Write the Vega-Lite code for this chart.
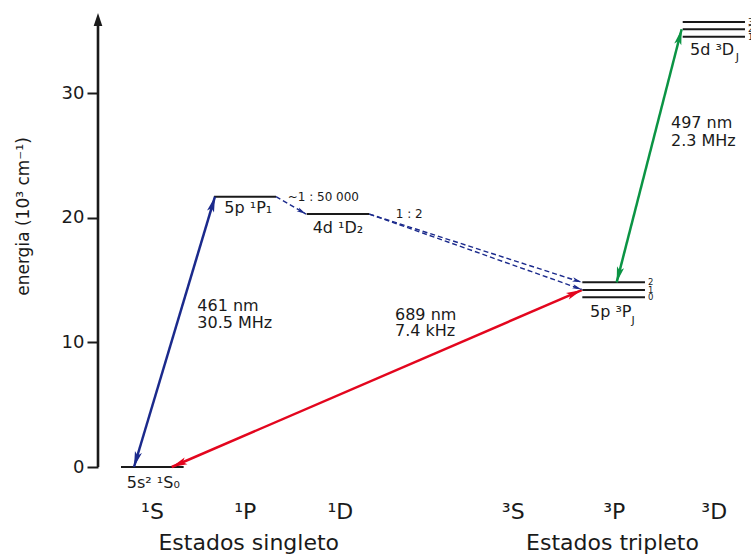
{
  "$schema": "https://vega.github.io/schema/vega-lite/v6.json",
  "width": 653,
  "height": 461,
  "autosize": {"type": "none"},
  "padding": {"left": 98, "top": 6, "right": 0, "bottom": 88},
  "background": "white",
  "config": {
    "view": {"stroke": null},
    "font": "DejaVu Sans",
    "axisX": {"disable": true},
    "text": {"font": "DejaVu Sans", "color": "#1a1a1a"}
  },
  "datasets": {
    "niveles": [
      {"estado": "5s2 1S0", "x1": 0.697, "x2": 1.343, "y": 0},
      {"estado": "5p 1P1", "x1": 1.656, "x2": 2.295, "y": 21.7},
      {"estado": "4d 1D2", "x1": 2.611, "x2": 3.257, "y": 20.3},
      {"estado": "5p 3P2", "x1": 5.453, "x2": 6.099, "y": 14.82},
      {"estado": "5p 3P1", "x1": 5.453, "x2": 6.099, "y": 14.2},
      {"estado": "5p 3P0", "x1": 5.453, "x2": 6.099, "y": 13.62},
      {"estado": "5d 3D3", "x1": 6.488, "x2": 7.13, "y": 35.71},
      {"estado": "5d 3D2", "x1": 6.488, "x2": 7.13, "y": 35.13},
      {"estado": "5d 3D1", "x1": 6.488, "x2": 7.13, "y": 34.53}
    ],
    "transiciones": [
      {"t": "461 nm", "canal": "1P1", "tipo": "laser", "x1": 0.831, "y1": 0, "x2": 1.666, "y2": 21.7},
      {"t": "689 nm", "canal": "3P1", "tipo": "laser", "x1": 1.22, "y1": 0, "x2": 5.447, "y2": 14.2},
      {"t": "497 nm", "canal": "3D", "tipo": "laser", "x1": 5.807, "y1": 14.82, "x2": 6.477, "y2": 35.13},
      {"t": "1P1-1D2", "canal": "1P1", "tipo": "decaimiento", "x1": 2.295, "y1": 21.7, "x2": 2.604, "y2": 20.3},
      {"t": "1D2-3P2", "canal": "1P1", "tipo": "decaimiento", "x1": 3.257, "y1": 20.3, "x2": 5.447, "y2": 14.82},
      {"t": "1D2-3P1", "canal": "1P1", "tipo": "decaimiento", "x1": 3.257, "y1": 20.3, "x2": 5.447, "y2": 14.25}
    ],
    "eje": [{"x": 0.46, "y": 0, "ytop": 35.5, "ypunta": 36.44}],
    "textos": [
      {"texto": "5s² ¹S₀", "x": 1.03, "y": -1.71, "clase": "nivel"},
      {"texto": "5p ¹P₁", "x": 2.009, "y": 20.42, "clase": "nivel"},
      {"texto": "4d ¹D₂", "x": 2.934, "y": 18.76, "clase": "nivel"},
      {"texto": "5p ³P", "x": 5.532, "y": 12.04, "clase": "nivelL"},
      {"texto": "J", "x": 5.96, "y": 11.5, "clase": "sub"},
      {"texto": "5d ³D", "x": 6.563, "y": 33.1, "clase": "nivelL"},
      {"texto": "J", "x": 7.035, "y": 32.55, "clase": "sub"},
      {"texto": "2", "x": 6.13, "y": 14.82, "clase": "J"},
      {"texto": "1", "x": 6.13, "y": 14.2, "clase": "J"},
      {"texto": "0", "x": 6.13, "y": 13.62, "clase": "J"},
      {"texto": "3", "x": 7.161, "y": 35.71, "clase": "J"},
      {"texto": "2", "x": 7.161, "y": 35.13, "clase": "J"},
      {"texto": "1", "x": 7.161, "y": 34.53, "clase": "J"},
      {"texto": "461 nm", "x": 1.484, "y": 12.54, "clase": "trans"},
      {"texto": "30.5 MHz", "x": 1.484, "y": 11.18, "clase": "trans"},
      {"texto": "689 nm", "x": 3.522, "y": 11.8, "clase": "trans"},
      {"texto": "7.4 kHz", "x": 3.522, "y": 10.51, "clase": "trans"},
      {"texto": "497 nm", "x": 6.367, "y": 27.2, "clase": "trans"},
      {"texto": "2.3 MHz", "x": 6.367, "y": 25.8, "clase": "trans"},
      {"texto": "~1 : 50 000", "x": 2.783, "y": 21.37, "clase": "ratio"},
      {"texto": "1 : 2", "x": 3.668, "y": 20.0, "clase": "ratio"},
      {"texto": "¹S", "x": 1.022, "y": -4.2, "clase": "term"},
      {"texto": "¹P", "x": 1.979, "y": -4.2, "clase": "term"},
      {"texto": "¹D", "x": 2.958, "y": -4.2, "clase": "term"},
      {"texto": "³S", "x": 4.741, "y": -4.2, "clase": "term"},
      {"texto": "³P", "x": 5.782, "y": -4.2, "clase": "term"},
      {"texto": "³D", "x": 6.813, "y": -4.2, "clase": "term"},
      {"texto": "Estados singleto", "x": 2.014, "y": -6.66, "clase": "grupo"},
      {"texto": "Estados tripleto", "x": 5.764, "y": -6.66, "clase": "grupo"}
    ]
  },
  "layer": [
    {
      "data": {"name": "eje"},
      "mark": {"type": "rule", "strokeWidth": 2.6, "color": "#1a1a1a"},
      "encoding": {
        "x": {"field": "x", "type": "quantitative", "scale": {"domain": [0.46, 7.192], "nice": false, "zero": false}, "axis": null},
        "y": {
          "field": "y", "type": "quantitative",
          "scale": {"domain": [0, 37], "nice": false, "zero": false},
          "axis": {
            "title": "energia (10³ cm⁻¹)",
            "values": [0, 10, 20, 30],
            "domain": false,
            "grid": false,
            "tickSize": 11,
            "tickWidth": 2,
            "tickColor": "#1a1a1a",
            "labelFontSize": 18,
            "labelFont": "DejaVu Sans",
            "labelColor": "#1a1a1a",
            "labelPadding": 3,
            "titleFont": "DejaVu Sans",
            "titleFontSize": 17,
            "titleFontWeight": "normal",
            "titleColor": "#1a1a1a",
            "titleAngle": -90,
            "titleAlign": "center",
            "titleBaseline": "middle",
            "titleX": -75,
            "titleY": 210
          }
        },
        "y2": {"field": "ytop"}
      }
    },
    {
      "data": {"name": "eje"},
      "mark": {"type": "point", "shape": "M0,0 L0.6,1.8 L-0.6,1.8 Z", "filled": true, "size": 207, "color": "#1a1a1a", "opacity": 1, "strokeWidth": 0},
      "encoding": {
        "x": {"field": "x", "type": "quantitative", "axis": null},
        "y": {"field": "ypunta", "type": "quantitative"}
      }
    },
    {
      "data": {"name": "niveles"},
      "mark": {"type": "rule", "strokeWidth": 2, "color": "#1a1a1a"},
      "encoding": {
        "x": {"field": "x1", "type": "quantitative", "axis": null},
        "x2": {"field": "x2"},
        "y": {"field": "y", "type": "quantitative"}
      }
    },
    {
      "data": {"name": "transiciones"},
      "transform": [{"filter": "datum.tipo == 'laser'"}],
      "mark": {"type": "rule", "strokeWidth": 2.5},
      "encoding": {
        "x": {"field": "x1", "type": "quantitative", "axis": null},
        "y": {"field": "y1", "type": "quantitative"},
        "x2": {"field": "x2"},
        "y2": {"field": "y2"},
        "color": {"field": "canal", "type": "nominal", "legend": null, "scale": {"domain": ["1P1", "3P1", "3D"], "range": ["#1b2a8c", "#e3061e", "#0b9444"]}}
      }
    },
    {
      "data": {"name": "transiciones"},
      "transform": [{"filter": "datum.tipo == 'decaimiento'"}],
      "mark": {"type": "rule", "strokeWidth": 1.4, "strokeDash": [5, 3]},
      "encoding": {
        "x": {"field": "x1", "type": "quantitative", "axis": null},
        "y": {"field": "y1", "type": "quantitative"},
        "x2": {"field": "x2"},
        "y2": {"field": "y2"},
        "color": {"field": "canal", "type": "nominal", "legend": null}
      }
    },
    {
      "data": {"name": "transiciones"},
      "transform": [
        {"filter": "datum.tipo == 'laser'"},
        {"calculate": "atan2((datum.x2 - datum.x1) * 97, (datum.y2 - datum.y1) * 12.459) * 180 / PI", "as": "ang"}
      ],
      "mark": {"type": "point", "shape": "M0,0 L0.42,1.8 L0,1.4 L-0.42,1.8 Z", "filled": true, "size": 300, "opacity": 1, "strokeWidth": 0},
      "encoding": {
        "x": {"field": "x2", "type": "quantitative", "axis": null},
        "y": {"field": "y2", "type": "quantitative"},
        "angle": {"field": "ang", "type": "quantitative", "scale": null},
        "color": {"field": "canal", "type": "nominal", "legend": null}
      }
    },
    {
      "data": {"name": "transiciones"},
      "transform": [
        {"filter": "datum.tipo == 'laser'"},
        {"calculate": "atan2((datum.x1 - datum.x2) * 97, (datum.y1 - datum.y2) * 12.459) * 180 / PI", "as": "ang"}
      ],
      "mark": {"type": "point", "shape": "M0,0 L0.42,1.8 L0,1.4 L-0.42,1.8 Z", "filled": true, "size": 300, "opacity": 1, "strokeWidth": 0},
      "encoding": {
        "x": {"field": "x1", "type": "quantitative", "axis": null},
        "y": {"field": "y1", "type": "quantitative"},
        "angle": {"field": "ang", "type": "quantitative", "scale": null},
        "color": {"field": "canal", "type": "nominal", "legend": null}
      }
    },
    {
      "data": {"name": "transiciones"},
      "transform": [
        {"filter": "datum.tipo == 'decaimiento'"},
        {"calculate": "atan2((datum.x2 - datum.x1) * 97, (datum.y2 - datum.y1) * 12.459) * 180 / PI", "as": "ang"}
      ],
      "mark": {"type": "point", "shape": "M0,0 L0.42,1.8 L0,1.4 L-0.42,1.8 Z", "filled": true, "size": 110, "opacity": 1, "strokeWidth": 0},
      "encoding": {
        "x": {"field": "x2", "type": "quantitative", "axis": null},
        "y": {"field": "y2", "type": "quantitative"},
        "angle": {"field": "ang", "type": "quantitative", "scale": null},
        "color": {"field": "canal", "type": "nominal", "legend": null}
      }
    },
    {
      "data": {"name": "textos"},
      "transform": [{"filter": "datum.clase == 'nivel'"}],
      "mark": {"type": "text", "align": "center", "baseline": "alphabetic", "fontSize": 16},
      "encoding": {
        "x": {"field": "x", "type": "quantitative", "axis": null},
        "y": {"field": "y", "type": "quantitative"},
        "text": {"field": "texto"}
      }
    },
    {
      "data": {"name": "textos"},
      "transform": [{"filter": "datum.clase == 'nivelL' || datum.clase == 'trans'"}],
      "mark": {"type": "text", "align": "left", "baseline": "alphabetic", "fontSize": 16},
      "encoding": {
        "x": {"field": "x", "type": "quantitative", "axis": null},
        "y": {"field": "y", "type": "quantitative"},
        "text": {"field": "texto"}
      }
    },
    {
      "data": {"name": "textos"},
      "transform": [{"filter": "datum.clase == 'sub'"}],
      "mark": {"type": "text", "align": "left", "baseline": "alphabetic", "fontSize": 11},
      "encoding": {
        "x": {"field": "x", "type": "quantitative", "axis": null},
        "y": {"field": "y", "type": "quantitative"},
        "text": {"field": "texto"}
      }
    },
    {
      "data": {"name": "textos"},
      "transform": [{"filter": "datum.clase == 'J'"}],
      "mark": {"type": "text", "align": "left", "baseline": "middle", "fontSize": 8.5},
      "encoding": {
        "x": {"field": "x", "type": "quantitative", "axis": null},
        "y": {"field": "y", "type": "quantitative"},
        "text": {"field": "texto"}
      }
    },
    {
      "data": {"name": "textos"},
      "transform": [{"filter": "datum.clase == 'ratio'"}],
      "mark": {"type": "text", "align": "center", "baseline": "alphabetic", "fontSize": 12},
      "encoding": {
        "x": {"field": "x", "type": "quantitative", "axis": null},
        "y": {"field": "y", "type": "quantitative"},
        "text": {"field": "texto"}
      }
    },
    {
      "data": {"name": "textos"},
      "transform": [{"filter": "datum.clase == 'term' || datum.clase == 'grupo'"}],
      "mark": {"type": "text", "align": "center", "baseline": "alphabetic", "fontSize": 22},
      "encoding": {
        "x": {"field": "x", "type": "quantitative", "axis": null},
        "y": {"field": "y", "type": "quantitative"},
        "text": {"field": "texto"}
      }
    }
  ]
}
